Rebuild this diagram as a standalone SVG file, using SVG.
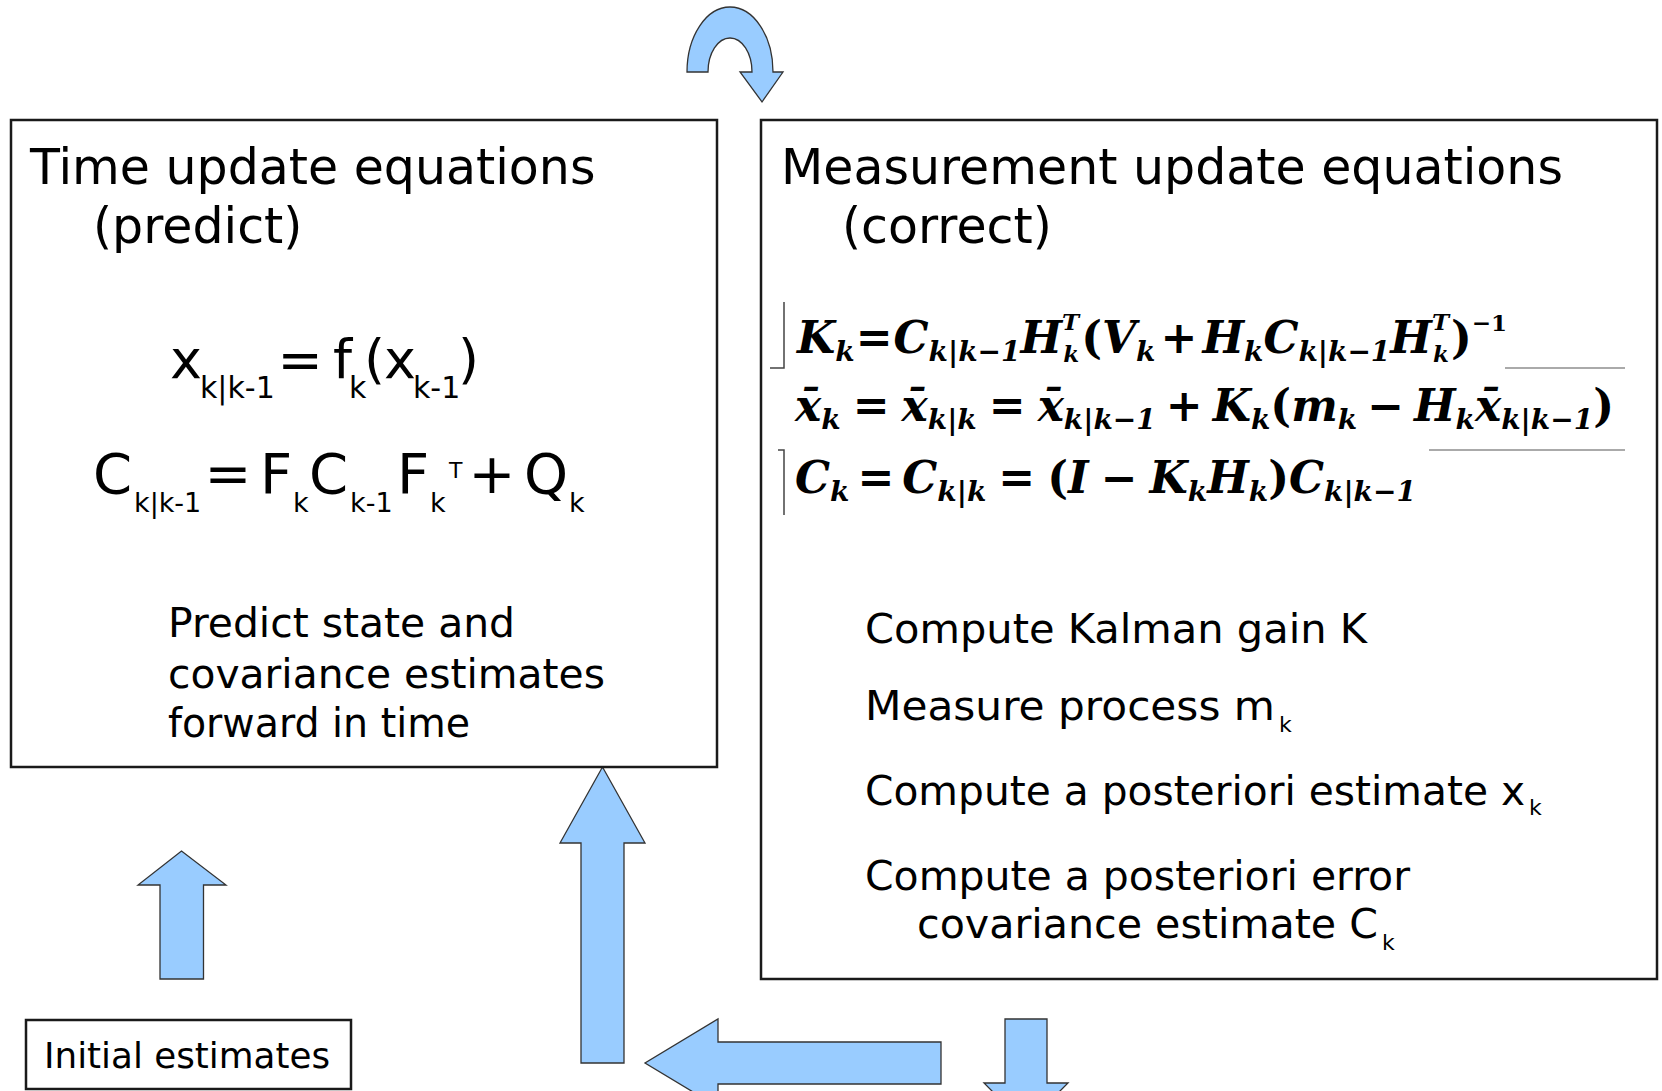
<svg xmlns="http://www.w3.org/2000/svg" width="1662" height="1091" viewBox="0 0 1662 1091">
<style>
.box{fill:#fff;stroke:#1a1a1a;stroke-width:2.5}
.t{font-family:"DejaVu Sans","Liberation Sans",sans-serif;fill:#000}
.h{font-size:49px}
.p{font-size:41px}
.e1{font-size:54px}
.e2{font-size:56px}
.s30{font-size:30px}
.s27{font-size:27px}
.s20{font-size:20px}
.s22{font-size:22px}
.mi{font-family:"DejaVu Serif","Liberation Serif",serif;font-weight:bold;font-style:italic;font-size:44px;fill:#000}
.sb{font-size:28px}
.st{font-size:23px}
.op{font-style:normal}
.arrow{fill:#99ccff;stroke:#333;stroke-width:1.3;stroke-linejoin:miter}
.br{fill:none;stroke:#444;stroke-width:1.5}
.rule{fill:none;stroke:#aaa;stroke-width:2}
</style>
<rect width="1662" height="1091" fill="#fff"/>

<g id="connectors">
  <path id="loop-arrow" class="arrow" d="M687 72 A43 65 0 0 1 773 72 L783 72 L762 102 L740 72 L752 72 A22 34 0 0 0 708 72 Z"/>
  <path id="init-arrow" class="arrow" d="M160 979 L160 885 L138 885 L181.5 851 L226 885 L203.5 885 L203.5 979 Z"/>
  <path id="up-arrow" class="arrow" d="M581 1063 L581 843 L560 843 L602.5 767 L645 843 L624 843 L624 1063 Z"/>
  <path id="left-arrow" class="arrow" d="M941 1042 L718 1042 L718 1019 L645 1063 L718 1107 L718 1084 L941 1084 Z"/>
  <path id="down-arrow" class="arrow" d="M1005 1019 L1047 1019 L1047 1083 L1068 1083 L1026 1125 L984 1083 L1005 1083 Z"/>
</g>

<g id="time-update">
  <rect class="box" x="11" y="120" width="706" height="647"/>
  <text class="t h" x="30" y="184">Time update equations</text>
  <text class="t h" x="93" y="243">(predict)</text>
  <g id="eq-predict-x">
    <text class="t e1" x="170" y="378">x</text>
    <text class="t s30" x="200" y="398">k|k-1</text>
    <text class="t e1" x="300" y="378" text-anchor="middle">=</text>
    <text class="t e1" x="333" y="378">f</text>
    <text class="t s30" x="349" y="398">k</text>
    <text class="t e1" x="364" y="378">(</text>
    <text class="t e1" x="384" y="378">x</text>
    <text class="t s30" x="413" y="398">k-1</text>
    <text class="t e1" x="458" y="378">)</text>
  </g>
  <g id="eq-predict-c">
    <text class="t e2" x="93" y="493">C</text>
    <text class="t s27" x="134" y="512">k|k-1</text>
    <text class="t e2" x="228" y="493" text-anchor="middle">=</text>
    <text class="t e2" x="260" y="493">F</text>
    <text class="t s27" x="293" y="512">k</text>
    <text class="t e2" x="309" y="493">C</text>
    <text class="t s27" x="350" y="512">k-1</text>
    <text class="t e2" x="397" y="493">F</text>
    <text class="t s27" x="430" y="512">k</text>
    <text class="t s22" x="449" y="478">T</text>
    <text class="t e2" x="492" y="493" text-anchor="middle">+</text>
    <text class="t e2" x="524" y="493">Q</text>
    <text class="t s27" x="569" y="512">k</text>
  </g>
  <text class="t p" x="168" y="637" textLength="347" lengthAdjust="spacingAndGlyphs">Predict state and</text>
  <text class="t p" x="168" y="688" textLength="437" lengthAdjust="spacingAndGlyphs">covariance estimates</text>
  <text class="t p" x="168" y="737" textLength="302" lengthAdjust="spacingAndGlyphs">forward in time</text>
</g>

<g id="measurement-update">
  <rect class="box" x="761" y="120" width="896" height="859"/>
  <text class="t h" x="781" y="184">Measurement update equations</text>
  <text class="t h" x="842" y="243">(correct)</text>
  <path class="br" d="M784 302 L784 368 L770 368"/>
  <path class="br" d="M778 450 L784 450 L784 515"/>
  <path class="rule" d="M1505 368 L1625 368 M1429 450 L1625 450"/>
  <text class="mi" x="797" y="353">K<tspan class="sb" dy="8">k</tspan><tspan class="op" dx="1" dy="-8">=</tspan><tspan dx="1">C</tspan><tspan class="sb" dy="8">k|k−1</tspan><tspan dy="-8">H</tspan><tspan class="st" dy="-23">T</tspan><tspan class="st" dx="-16" dy="32">k</tspan><tspan class="op" dx="2" dy="-9">(</tspan>V<tspan class="sb" dy="8">k</tspan><tspan class="op" dx="5" dy="-8">+</tspan><tspan dx="5">H</tspan><tspan class="sb" dy="8">k</tspan><tspan dy="-8">C</tspan><tspan class="sb" dy="8">k|k−1</tspan><tspan dy="-8">H</tspan><tspan class="st" dy="-23">T</tspan><tspan class="st" dx="-16" dy="32">k</tspan><tspan class="op" dx="2" dy="-9">)</tspan><tspan class="st op" dy="-22">−1</tspan></text>
  <text class="mi" x="795" y="421">x̄<tspan class="sb" dy="8">k</tspan><tspan class="op" dx="12" dy="-8">=</tspan><tspan dx="12">x̄</tspan><tspan class="sb" dy="8">k|k</tspan><tspan class="op" dx="12" dy="-8">=</tspan><tspan dx="12">x̄</tspan><tspan class="sb" dy="8">k|k−1</tspan><tspan class="op" dx="10" dy="-8">+</tspan><tspan dx="10">K</tspan><tspan class="sb" dy="8">k</tspan><tspan class="op" dy="-8">(</tspan>m<tspan class="sb" dy="8">k</tspan><tspan class="op" dx="10" dy="-8">−</tspan><tspan dx="10">H</tspan><tspan class="sb" dy="8">k</tspan><tspan dy="-8">x̄</tspan><tspan class="sb" dy="8">k|k−1</tspan><tspan class="op" dy="-8">)</tspan></text>
  <text class="mi" x="795" y="493">C<tspan class="sb" dy="8">k</tspan><tspan class="op" dx="8" dy="-8">=</tspan><tspan dx="8">C</tspan><tspan class="sb" dy="8">k|k</tspan><tspan class="op" dx="12" dy="-8">=</tspan><tspan class="op" dx="12">(</tspan>I<tspan class="op" dx="12">−</tspan><tspan dx="12">K</tspan><tspan class="sb" dy="8">k</tspan><tspan dy="-8">H</tspan><tspan class="sb" dy="8">k</tspan><tspan class="op" dy="-8">)</tspan>C<tspan class="sb" dy="8">k|k−1</tspan></text>
  <text class="t p" x="865" y="643" textLength="502" lengthAdjust="spacingAndGlyphs">Compute Kalman gain K</text>
  <text class="t p" x="865" y="720" textLength="410" lengthAdjust="spacingAndGlyphs">Measure process m</text>
  <text class="t s22" x="1279" y="732">k</text>
  <text class="t p" x="865" y="805" textLength="660" lengthAdjust="spacingAndGlyphs">Compute a posteriori estimate x</text>
  <text class="t s22" x="1529" y="815">k</text>
  <text class="t p" x="865" y="890" textLength="545" lengthAdjust="spacingAndGlyphs">Compute a posteriori error</text>
  <text class="t p" x="917" y="938" textLength="461" lengthAdjust="spacingAndGlyphs">covariance estimate C</text>
  <text class="t s22" x="1382" y="950">k</text>
</g>

<g id="initial-estimates">
  <rect class="box" x="26" y="1020" width="325" height="69"/>
  <text class="t" style="font-size:36px" x="44" y="1068" textLength="286" lengthAdjust="spacingAndGlyphs">Initial estimates</text>
</g>
</svg>
